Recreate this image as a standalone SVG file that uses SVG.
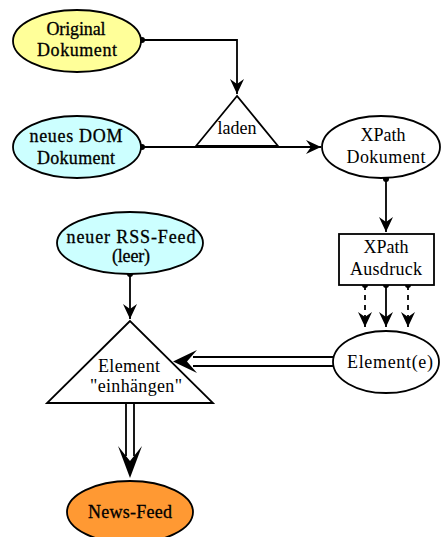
<svg xmlns="http://www.w3.org/2000/svg" width="442" height="537" viewBox="0 0 442 537">
<defs>
<style>
.n{stroke:#000;stroke-width:1.8}
.t{font-family:"Liberation Serif","Times New Roman",serif;font-size:18px;fill:#000;text-anchor:middle}
.b{stroke:#000;stroke-width:0.3}
.c{stroke:#000;stroke-width:1.8;fill:none}
.d{stroke-dasharray:5,5}
.dot{fill:#000}
</style>
<marker id="vee" viewBox="-16 -8 17 16" markerWidth="17" markerHeight="16" refX="0" refY="0" markerUnits="userSpaceOnUse" orient="auto">
<path d="M0,0 L-15,-7 L-10,0 L-15,7 Z" fill="#000"/>
</marker>
</defs>
<rect width="442" height="537" fill="#fff"/>
<g id="connectors">
<path class="c" d="M142,40 H237 V94" marker-end="url(#vee)"/>
<path class="c" d="M142,147 H321" marker-end="url(#vee)"/>
<path class="c" d="M386,179 V232" marker-end="url(#vee)"/>
<path class="c d" d="M365,285 V327" marker-end="url(#vee)"/>
<path class="c" d="M386,285 V327" marker-end="url(#vee)"/>
<path class="c d" d="M408,285 V327" marker-end="url(#vee)"/>
<path class="c" d="M130,274 V319" marker-end="url(#vee)"/>
<path class="c" d="M333,357 H193 M333,366 H193"/>
<path d="M173,361.5 L197,350 L187,361.5 L197,373 Z" fill="#000"/>
<path class="c" d="M126,403 V456 M134,403 V456"/>
<path d="M130,478 L118,446 L130,461 L142,446 Z" fill="#000"/>
<circle class="dot" cx="142" cy="40" r="3"/>
<circle class="dot" cx="142" cy="147" r="3"/>
<circle class="dot" cx="386" cy="179" r="3"/>
<circle class="dot" cx="365" cy="285" r="3"/>
<circle class="dot" cx="386" cy="285" r="3"/>
<circle class="dot" cx="408" cy="285" r="3"/>
<circle class="dot" cx="130" cy="274" r="3"/>
</g>
<g id="original">
<ellipse class="n" cx="77" cy="41" rx="64" ry="31" fill="#ffff99"/>
<text class="t b" x="76" y="35" textLength="59" lengthAdjust="spacing">Original</text>
<text class="t b" x="77" y="56" textLength="80" lengthAdjust="spacing">Dokument</text>
</g>
<g id="neuesdom">
<ellipse class="n" cx="77" cy="147" rx="64" ry="31" fill="#ccffff"/>
<text class="t b" x="76" y="142" textLength="93" lengthAdjust="spacing">neues DOM</text>
<text class="t b" x="76" y="164" textLength="78" lengthAdjust="spacing">Dokument</text>
</g>
<g id="laden">
<polygon class="n" points="237,96 196,146 278,146" fill="#fff"/>
<text class="t" x="237" y="134">laden</text>
</g>
<g id="xpathdok">
<ellipse class="n" cx="381" cy="147" rx="59" ry="31" fill="#fff"/>
<text class="t" x="383" y="141">XPath</text>
<text class="t" x="386" y="163" textLength="79" lengthAdjust="spacing">Dokument</text>
</g>
<g id="xpathausdruck">
<rect class="n" x="339" y="234" width="95" height="51" fill="#fff"/>
<text class="t" x="386" y="253">XPath</text>
<text class="t" x="386" y="275" textLength="72" lengthAdjust="spacing">Ausdruck</text>
</g>
<g id="elemente">
<ellipse class="n" cx="386" cy="362" rx="53" ry="31" fill="#fff"/>
<text class="t" x="390" y="368" textLength="86" lengthAdjust="spacing">Element(e)</text>
</g>
<g id="rssfeed">
<ellipse class="n" cx="130" cy="243" rx="73" ry="31" fill="#ccffff"/>
<text class="t b" x="131" y="243" textLength="129" lengthAdjust="spacing">neuer RSS-Feed</text>
<text class="t b" x="131" y="262" textLength="38" lengthAdjust="spacing">(leer)</text>
</g>
<g id="einhaengen">
<polygon class="n" points="130,321 47,403 213,403" fill="#fff"/>
<text class="t" x="129" y="372" textLength="62" lengthAdjust="spacing">Element</text>
<text class="t" x="136" y="392" textLength="92" lengthAdjust="spacing">"einhängen"</text>
</g>
<g id="newsfeed">
<ellipse class="n" cx="130" cy="512" rx="63" ry="31" fill="#ff9933"/>
<text class="t b" x="130" y="518" textLength="84" lengthAdjust="spacing">News-Feed</text>
</g>
</svg>
